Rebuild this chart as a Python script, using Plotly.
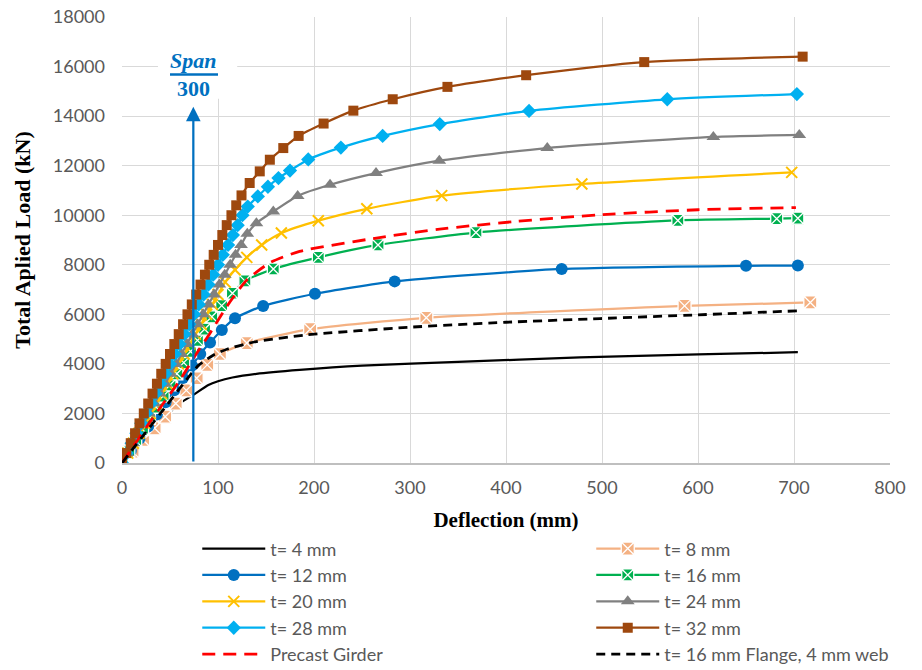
import plotly.graph_objects as go

# Load-deflection results: deflection (mm) vs total applied load (kN)
t4_x = [0, 20, 40, 60, 74.3, 90, 100, 115, 140, 185, 250, 350, 477, 600, 704]
t4_y = [0, 850, 1680, 2400, 2750, 3150, 3300, 3450, 3600, 3760, 3930, 4080, 4260, 4380, 4470]

t8_x = [0, 11, 22, 34, 45, 56, 67, 77.8, 88.8, 102, 130, 196, 317, 586, 717]
t8_y = [0, 460, 930, 1400, 1870, 2400, 2930, 3420, 3960, 4400, 4840, 5400, 5860, 6340, 6480]

t12_x = [0, 9.1, 18.1, 27.2, 36.3, 45.4, 54.4, 63.5, 73, 81.5, 91.7, 104, 117.7, 147, 201, 284, 458, 650, 704]
t12_y = [0, 490, 980, 1470, 1960, 2450, 2940, 3430, 3930, 4400, 4860, 5370, 5840, 6340, 6830, 7330, 7830, 7960, 7970]

t16_x = [0, 7.1, 14.3, 21.4, 28.6, 35.7, 42.9, 50, 57.1, 64.3, 71.4, 78.6, 86, 93.5, 103.8, 115, 128, 157.6, 204.5, 266.7, 368.7, 579, 682, 704]
t16_y = [0, 450, 900, 1350, 1800, 2250, 2700, 3150, 3600, 4050, 4500, 4950, 5400, 5900, 6350, 6850, 7350, 7830, 8300, 8800, 9300, 9790, 9860, 9880]

t20_x = [0, 5.9, 11.8, 17.6, 23.5, 29.4, 35.3, 41.2, 47.1, 52.9, 58.8, 64.7, 70.6, 76.5, 82.4, 88.2, 94.1, 100, 107.5, 117.7, 130, 145.5, 166, 204.5, 255, 333, 479, 697.6]
t20_y = [0, 400, 800, 1200, 1600, 2000, 2400, 2800, 3200, 3600, 4000, 4400, 4800, 5200, 5600, 6000, 6400, 6800, 7300, 7800, 8300, 8800, 9280, 9780, 10260, 10790, 11260, 11730]

t24_x = [0, 5.6, 11.3, 16.9, 22.5, 28.2, 33.8, 39.4, 45.1, 50.7, 56.3, 62, 67.6, 73.2, 78.9, 84.5, 90.1, 95.8, 101.4, 107, 112.7, 118.3, 124, 130.5, 140, 157.6, 183, 216.7, 264.6, 330.5, 443, 616, 705.5]
t24_y = [0, 400, 800, 1200, 1600, 2000, 2400, 2800, 3200, 3600, 4000, 4400, 4800, 5200, 5600, 6000, 6400, 6800, 7200, 7600, 8000, 8400, 8800, 9250, 9680, 10150, 10780, 11230, 11700, 12200, 12710, 13160, 13240]

t28_x = [0, 5, 10, 15, 20, 25, 30, 35, 40, 45, 50, 55, 60, 65, 70, 75, 80, 85, 90, 95, 100, 105, 110.5, 115.5, 120.5, 125.5, 131, 141.5, 152, 163, 175, 194, 228, 271.5, 331, 424, 568, 703]
t28_y = [0, 400, 800, 1200, 1600, 2000, 2400, 2800, 3200, 3600, 4000, 4400, 4800, 5200, 5600, 6000, 6400, 6800, 7200, 7600, 8000, 8400, 8800, 9200, 9600, 10000, 10350, 10760, 11150, 11500, 11800, 12250, 12730, 13200, 13680, 14210, 14680, 14890]

t32_x = [0, 4.5, 9.1, 13.6, 18.2, 22.7, 27.3, 31.8, 36.4, 40.9, 45.5, 50, 54.5, 59.1, 63.6, 68.2, 72.7, 77.3, 81.8, 86.4, 90.9, 95.5, 100, 104.5, 109.1, 114, 119, 124.5, 133, 143.5, 154, 168, 184, 210, 241, 282, 339, 421, 544, 709]
t32_y = [0, 400, 800, 1200, 1600, 2000, 2400, 2800, 3200, 3600, 4000, 4400, 4800, 5200, 5600, 6000, 6400, 6800, 7200, 7600, 8000, 8400, 8800, 9200, 9600, 10000, 10400, 10800, 11300, 11770, 12240, 12710, 13200, 13700, 14220, 14680, 15180, 15650, 16180, 16400]

precast_x = [0, 30, 60.4, 77.8, 91.7, 109, 130, 155, 185, 265, 331, 411, 498, 600, 702]
precast_y = [0, 1700, 3350, 4430, 5240, 6310, 7390, 8100, 8540, 9080, 9440, 9750, 10020, 10220, 10310]

flange_web_x = [0, 40, 70, 80, 95, 110, 140, 192, 300, 400, 498, 600, 703]
flange_web_y = [0, 2000, 3500, 3950, 4350, 4600, 4900, 5170, 5480, 5680, 5830, 5980, 6140]

# Span/300 deflection limit
span_limit = 74.3
arrow_top = 14380

x_ticks = [0, 100, 200, 300, 400, 500, 600, 700, 800]
y_ticks = [0, 2000, 4000, 6000, 8000, 10000, 12000, 14000, 16000, 18000]

TICK_FONT = dict(family="Lato", size=18, color="#595959")
TITLE_FONT = dict(family="Liberation Serif", size=21, color="#000000")
Y_TITLE_FONT = dict(family="Liberation Serif", size=22, color="#000000")

traces = [
    # name, x, y, colour, marker symbol, size, line dash, legend
    ("t= 4 mm", t4_x, t4_y, "#000000", None, 0, "solid", "legend"),
    ("t= 8 mm", t8_x, t8_y, "#F4B183", "square-x", 13, "solid", "legend2"),
    ("t= 12 mm", t12_x, t12_y, "#0070C0", "circle", 12, "solid", "legend"),
    ("t= 16 mm", t16_x, t16_y, "#00B050", "square-x", 12, "solid", "legend2"),
    ("t= 20 mm", t20_x, t20_y, "#FFC000", "x-thin", 11, "solid", "legend"),
    ("t= 24 mm", t24_x, t24_y, "#808080", "triangle-up", 12, "solid", "legend2"),
    ("t= 28 mm", t28_x, t28_y, "#00B0F0", "diamond", 11, "solid", "legend"),
    ("t= 32 mm", t32_x, t32_y, "#9E480E", "square", 10, "solid", "legend2"),
    ("Precast Girder", precast_x, precast_y, "#FF0000", None, 0, "13px,8px", "legend"),
    ("t= 16 mm Flange, 4 mm web", flange_web_x, flange_web_y, "#000000", None, 0, "9px,6px", "legend2"),
]

fig = go.Figure()
for name, xs, ys, color, symbol, size, dash, leg in traces:
    is_dashed = dash != "solid"
    kw = dict(
        x=xs, y=ys, name=name, legend=leg,
        line=dict(color=color, width=2.8 if is_dashed else 2.25, dash=dash,
                  shape="spline", smoothing=0.6),
    )
    if symbol is None:
        kw["mode"] = "lines"
    else:
        kw["mode"] = "lines+markers"
        if symbol == "square-x":
            mline = dict(color="white", width=1.3)
        elif symbol == "x-thin":
            mline = dict(color=color, width=2)
        else:
            mline = dict(color=color, width=0)
        kw["marker"] = dict(symbol=symbol, size=size, color=color, line=mline)
    fig.add_trace(go.Scatter(**kw))

# White backdrop behind the Span/300 label
fig.add_shape(type="rect", xref="x", yref="y", x0=37.5, x1=120, y0=14700, y1=18000,
              fillcolor="white", line=dict(width=0), layer="above")

# Deflection-limit arrow
fig.add_annotation(x=span_limit, y=arrow_top, ax=span_limit, ay=0,
                   xref="x", yref="y", axref="x", ayref="y",
                   text="", showarrow=True, arrowhead=2, arrowsize=1.3,
                   arrowwidth=2.25, arrowcolor="#0070C0")

label_font = dict(family="Liberation Serif", size=22, color="#0070C0")
fig.add_annotation(x=span_limit, y=16250, xref="x", yref="y", text="<b><i>Span</i></b>",
                   showarrow=False, font=label_font)
fig.add_shape(type="line", xref="x", yref="y", x0=50, x1=100, y0=15675, y1=15675,
              line=dict(color="#0070C0", width=2.5), layer="above")
fig.add_annotation(x=span_limit, y=15130, xref="x", yref="y", text="<b>300</b>",
                   showarrow=False, font=label_font)

legend_common = dict(
    orientation="v", xanchor="left", yanchor="top", y=-0.151,
    font=dict(family="Lato", size=18, color="#595959"),
    bgcolor="rgba(0,0,0,0)", itemwidth=63, tracegroupgap=0,
    itemclick=False, itemdoubleclick=False,
)

fig.update_layout(
    width=922, height=670,
    margin=dict(l=122, r=32, t=17, b=207, autoexpand=False),
    paper_bgcolor="white", plot_bgcolor="white",
    showlegend=True,
    legend=dict(x=0.098, **legend_common),
    legend2=dict(x=0.611, **legend_common),
    xaxis=dict(
        range=[0, 800], tickvals=x_ticks, ticktext=[str(v) for v in x_ticks],
        showgrid=True, gridcolor="#D9D9D9", gridwidth=1.3,
        zeroline=False, showline=True, linecolor="#BFBFBF", linewidth=1.5,
        ticks="", tickfont=TICK_FONT, ticklabelstandoff=8,
        title=dict(text="<b>Deflection (mm)</b>", font=TITLE_FONT, standoff=15),
        automargin=False,
    ),
    yaxis=dict(
        range=[0, 18000], tickvals=y_ticks, ticktext=[str(v) for v in y_ticks],
        showgrid=True, gridcolor="#D9D9D9", gridwidth=1.3,
        zeroline=False, showline=False,
        ticks="", tickfont=TICK_FONT, ticklabelstandoff=16,
        title=dict(text="<b>Total Aplied Load (kN)</b>", font=Y_TITLE_FONT, standoff=16),
        automargin=False,
    ),
)

fig.write_html("out.html")
